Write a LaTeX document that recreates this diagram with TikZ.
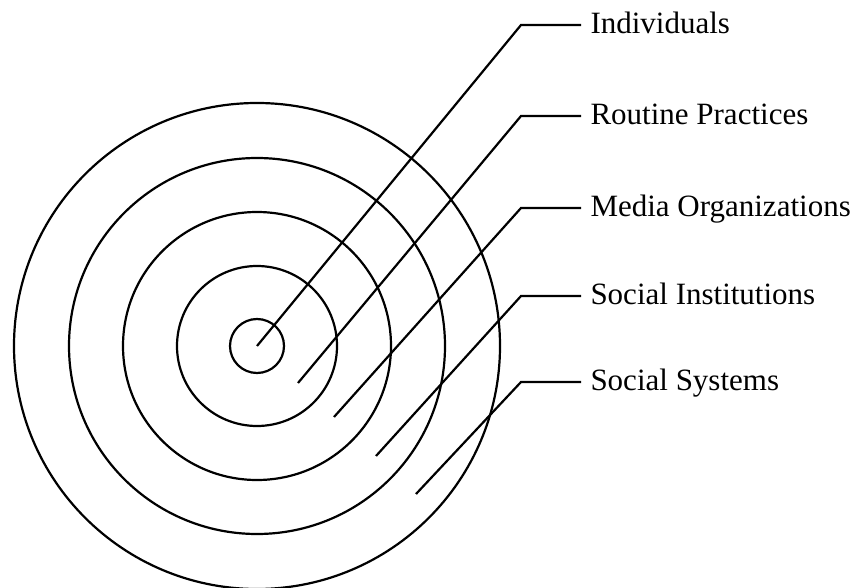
\documentclass[tikz,border=0pt]{standalone}
\usepackage{fontspec}
\setmainfont{Liberation Serif}
\usetikzlibrary{positioning}
\tikzstyle{base}=[x=0.5pt, y=-0.5pt, line width=1.1pt]
\tikzstyle{ring}=[draw, black, line width=1.1pt]
\tikzstyle{levellabel}=[anchor=west, inner xsep=4.2pt, inner ysep=0pt, text height=0.85em, text depth=0pt, font=\fontsize{15.5}{18}\selectfont]

\begin{document}
\begin{tikzpicture}[base]
    \path [use as bounding box] (0,0) rectangle (856,588);
    % rings
    \coordinate (centre) at (257,346);
    \foreach \r in {27,80,134,188,243}
        \draw [ring] (centre) circle [radius=0.5*\r pt];
    % labels
    \node [levellabel] (individuals) at (581,25) {Individuals};
    \node [levellabel] (routine) at (581,116) {Routine Practices};
    \node [levellabel] (media) at (581,208) {Media Organizations};
    \node [levellabel] (institutions) at (581,296) {Social Institutions};
    \node [levellabel] (systems) at (581,382) {Social Systems};
    % pointers
    \coordinate (routine start) at (298,383);
    \coordinate (media start) at (334,417);
    \coordinate (institutions start) at (376,456);
    \coordinate (systems start) at (416,494);
    \coordinate (individuals bend) at (521,25);
    \coordinate (routine bend) at (521,116);
    \coordinate (media bend) at (521,208);
    \coordinate (institutions bend) at (521,296);
    \coordinate (systems bend) at (521,382);
    \draw (centre) -- (individuals bend) -- (individuals.west);
    \draw (routine start) -- (routine bend) -- (routine.west);
    \draw (media start) -- (media bend) -- (media.west);
    \draw (institutions start) -- (institutions bend) -- (institutions.west);
    \draw (systems start) -- (systems bend) -- (systems.west);
\end{tikzpicture}
\end{document}
